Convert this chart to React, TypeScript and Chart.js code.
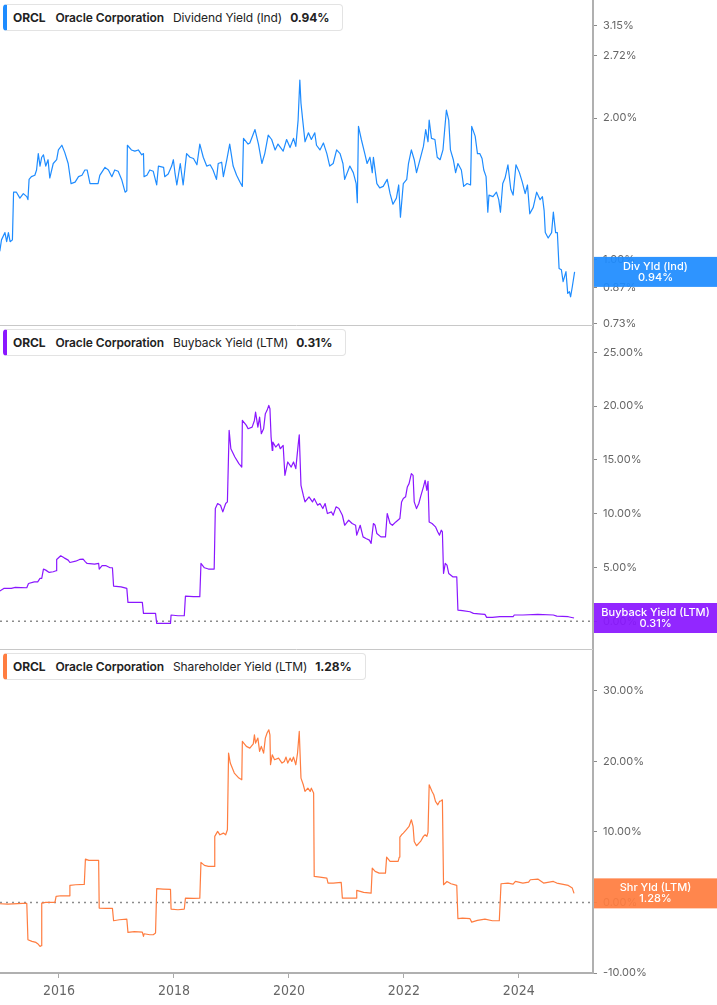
import React, { useEffect, useRef } from 'react';
import { Chart, registerables } from 'chart.js';

Chart.register(...registerables);

// ---------- Data (decimal years, % values) ----------
const divDates = [
  2014.97, 2015.0, 2015.06, 2015.09, 2015.12, 2015.15, 2015.19, 2015.21, 2015.26, 2015.32, 2015.38, 2015.44, 2015.46,
  2015.48, 2015.52, 2015.58, 2015.61, 2015.64, 2015.67, 2015.7, 2015.73, 2015.77, 2015.81, 2015.84, 2015.9, 2015.96,
  2015.99, 2016.05, 2016.1, 2016.16, 2016.21, 2016.28, 2016.34, 2016.4, 2016.45, 2016.49, 2016.54, 2016.63, 2016.68,
  2016.71, 2016.8, 2016.86, 2016.92, 2016.97, 2017.03, 2017.09, 2017.15, 2017.18, 2017.19, 2017.26, 2017.32, 2017.38,
  2017.44, 2017.47, 2017.48, 2017.53, 2017.58, 2017.64, 2017.7, 2017.73, 2017.82, 2017.84, 2017.9, 2017.96, 2017.99,
  2018.02, 2018.05, 2018.11, 2018.16, 2018.22, 2018.28, 2018.34, 2018.4, 2018.45, 2018.51, 2018.57, 2018.63, 2018.68,
  2018.74, 2018.77, 2018.83, 2018.86, 2018.92, 2018.97, 2019.03, 2019.09, 2019.15, 2019.19, 2019.21, 2019.29, 2019.32,
  2019.41, 2019.47, 2019.53, 2019.58, 2019.64, 2019.7, 2019.76, 2019.81, 2019.9, 2019.96, 2020.02, 2020.08, 2020.12,
  2020.16, 2020.19, 2020.21, 2020.24, 2020.28, 2020.34, 2020.39, 2020.45, 2020.48, 2020.54, 2020.6, 2020.66, 2020.71,
  2020.77, 2020.83, 2020.89, 2020.94, 2020.97, 2021.06, 2021.12, 2021.17, 2021.19, 2021.21, 2021.26, 2021.32, 2021.36,
  2021.41, 2021.45, 2021.47, 2021.53, 2021.58, 2021.64, 2021.71, 2021.76, 2021.81, 2021.87, 2021.91, 2021.94, 2021.99,
  2022.05, 2022.08, 2022.13, 2022.18, 2022.22, 2022.28, 2022.34, 2022.38, 2022.42, 2022.44, 2022.48, 2022.54, 2022.58,
  2022.63, 2022.68, 2022.71, 2022.74, 2022.78, 2022.81, 2022.86, 2022.9, 2022.94, 2023.0, 2023.04, 2023.1, 2023.16,
  2023.18, 2023.24, 2023.28, 2023.32, 2023.36, 2023.39, 2023.43, 2023.46, 2023.48, 2023.55, 2023.61, 2023.65, 2023.68,
  2023.72, 2023.76, 2023.81, 2023.86, 2023.9, 2023.95, 2024.01, 2024.06, 2024.11, 2024.15, 2024.19, 2024.25, 2024.31,
  2024.37, 2024.41, 2024.44, 2024.46, 2024.51, 2024.57, 2024.6, 2024.64, 2024.67, 2024.7, 2024.74, 2024.77, 2024.82,
  2024.85, 2024.88, 2024.9, 2024.93, 2024.97,
];
const divValues = [
  1.04, 1.1, 1.14, 1.09, 1.14, 1.09, 1.1, 1.39, 1.39, 1.35, 1.38, 1.36, 1.34,
  1.48, 1.5, 1.51, 1.55, 1.68, 1.58, 1.65, 1.67, 1.58, 1.63, 1.49, 1.6, 1.63,
  1.71, 1.75, 1.69, 1.6, 1.45, 1.46, 1.5, 1.51, 1.55, 1.55, 1.45, 1.45, 1.45,
  1.51, 1.57, 1.55, 1.5, 1.55, 1.54, 1.48, 1.39, 1.4, 1.75, 1.71, 1.7, 1.71,
  1.67, 1.68, 1.5, 1.51, 1.55, 1.54, 1.44, 1.58, 1.57, 1.5, 1.52, 1.58, 1.63,
  1.52, 1.44, 1.6, 1.44, 1.68, 1.65, 1.64, 1.59, 1.76, 1.65, 1.58, 1.59, 1.55,
  1.48, 1.6, 1.61, 1.5, 1.63, 1.76, 1.58, 1.51, 1.46, 1.43, 1.81, 1.76, 1.77,
  1.89, 1.76, 1.6, 1.68, 1.84, 1.8, 1.71, 1.76, 1.7, 1.8, 1.73, 1.81, 1.74,
  1.98, 2.41, 2.15, 1.98, 1.78, 1.86, 1.8, 1.86, 1.75, 1.71, 1.77, 1.68, 1.58,
  1.6, 1.71, 1.68, 1.6, 1.48, 1.58, 1.53, 1.45, 1.32, 1.92, 1.8, 1.68, 1.6,
  1.65, 1.53, 1.65, 1.45, 1.42, 1.43, 1.48, 1.38, 1.31, 1.35, 1.44, 1.23, 1.45,
  1.48, 1.6, 1.71, 1.63, 1.53, 1.63, 1.74, 1.89, 1.78, 1.98, 1.81, 1.8, 1.65,
  1.63, 1.71, 1.89, 2.08, 1.98, 1.71, 1.63, 1.53, 1.6, 1.55, 1.43, 1.45, 1.44,
  1.92, 1.83, 1.68, 1.68, 1.64, 1.55, 1.5, 1.26, 1.37, 1.36, 1.39, 1.34, 1.26,
  1.45, 1.49, 1.59, 1.41, 1.37, 1.59, 1.53, 1.46, 1.38, 1.44, 1.25, 1.29, 1.39,
  1.34, 1.36, 1.27, 1.14, 1.11, 1.14, 1.26, 1.14, 1.14, 0.956, 0.95, 0.896, 0.941,
  0.846, 0.853, 0.832, 0.874, 0.94,
];

const buybackDates = [
  2014.97, 2015.04, 2015.17, 2015.24, 2015.44, 2015.47, 2015.57, 2015.63, 2015.67, 2015.7, 2015.73, 2015.77, 2015.83,
  2015.9, 2015.95, 2015.96, 2016.03, 2016.09, 2016.16, 2016.19, 2016.29, 2016.36, 2016.42, 2016.46, 2016.49, 2016.62,
  2016.69, 2016.7, 2016.75, 2016.82, 2016.89, 2016.93, 2016.95, 2017.08, 2017.18, 2017.2, 2017.35, 2017.45, 2017.47,
  2017.54, 2017.68, 2017.7, 2017.81, 2017.94, 2017.95, 2018.07, 2018.18, 2018.2, 2018.34, 2018.45, 2018.47, 2018.53,
  2018.6, 2018.7, 2018.72, 2018.76, 2018.81, 2018.85, 2018.9, 2018.93, 2018.96, 2018.99, 2019.06, 2019.13, 2019.18,
  2019.19, 2019.26, 2019.29, 2019.36, 2019.4, 2019.42, 2019.46, 2019.49, 2019.52, 2019.56, 2019.59, 2019.62, 2019.65,
  2019.67, 2019.69, 2019.71, 2019.72, 2019.77, 2019.82, 2019.85, 2019.9, 2019.93, 2019.98, 2020.04, 2020.08, 2020.12,
  2020.16, 2020.18, 2020.21, 2020.25, 2020.28, 2020.35, 2020.41, 2020.44, 2020.5, 2020.54, 2020.59, 2020.63, 2020.67,
  2020.74, 2020.77, 2020.82, 2020.87, 2020.93, 2020.97, 2021.04, 2021.1, 2021.16, 2021.18, 2021.24, 2021.29, 2021.34,
  2021.4, 2021.43, 2021.47, 2021.5, 2021.53, 2021.6, 2021.68, 2021.71, 2021.76, 2021.8, 2021.86, 2021.93, 2021.96,
  2021.99, 2022.03, 2022.06, 2022.09, 2022.13, 2022.16, 2022.18, 2022.22, 2022.26, 2022.29, 2022.34, 2022.37, 2022.4,
  2022.42, 2022.44, 2022.49, 2022.55, 2022.59, 2022.62, 2022.65, 2022.67, 2022.69, 2022.72, 2022.75, 2022.78, 2022.85,
  2022.92, 2022.94, 2023.02, 2023.15, 2023.21, 2023.35, 2023.41, 2023.44, 2023.54, 2023.67, 2023.9, 2023.92, 2024.07,
  2024.33, 2024.6, 2024.66, 2024.86, 2024.96,
];
const buybackValues = [
  2.81, 3.06, 3.06, 3.15, 3.12, 3.52, 3.67, 3.67, 3.99, 3.99, 4.86, 4.76, 4.55,
  4.61, 4.7, 5.75, 6.09, 5.9, 5.69, 5.47, 5.59, 5.75, 5.78, 5.53, 5.38, 5.32,
  5.38, 4.86, 5.17, 5.17, 4.98, 4.98, 3.28, 3.21, 3.06, 1.76, 1.76, 1.76, 0.74,
  0.74, 0.74, -0.19, -0.19, -0.19, 0.59, 0.52, 0.52, 2.35, 2.29, 2.29, 5.38, 4.98,
  4.86, 4.86, 10.48, 10.95, 10.79, 10.17, 10.95, 11.1, 17.75, 16.04, 15.27, 14.66, 14.34,
  18.67, 18.21, 17.9, 18.05, 18.67, 19.45, 18.05, 18.98, 17.44, 17.9, 19.3, 19.61, 20.07,
  19.76, 17.13, 15.89, 16.66, 16.2, 16.5, 16.04, 16.35, 13.57, 14.81, 14.34, 14.81, 14.19,
  16.35, 17.34, 12.64, 11.72, 11.1, 11.57, 11.1, 11.41, 10.79, 10.95, 10.48, 10.95, 10.02,
  10.17, 9.86, 10.64, 10.48, 9.86, 8.93, 9.4, 9.09, 8.93, 8.01, 8.93, 7.85, 7.7,
  7.55, 7.24, 9.09, 8.93, 8.16, 7.85, 7.85, 10.02, 9.09, 8.93, 9.24, 9.55, 11.1,
  11.41, 11.57, 12.49, 12.8, 13.73, 13.57, 11.1, 10.48, 10.95, 11.57, 12.49, 13.11, 12.18,
  13.01, 9.24, 9.09, 8.78, 8.31, 8.01, 8.47, 8.31, 4.45, 5.38, 5.22, 4.45, 4.14,
  4.14, 1.05, 0.99, 0.89, 0.74, 0.68, 0.65, 0.37, 0.37, 0.43, 0.43, 0.59, 0.59,
  0.65, 0.59, 0.49, 0.43, 0.31,
];

const shrDates = [
  2014.97, 2015.11, 2015.37, 2015.44, 2015.46, 2015.53, 2015.6, 2015.63, 2015.67, 2015.69, 2015.7, 2015.77, 2015.93,
  2015.95, 2016.03, 2016.18, 2016.19, 2016.29, 2016.44, 2016.46, 2016.52, 2016.69, 2016.7, 2016.82, 2016.93, 2016.95,
  2017.05, 2017.18, 2017.2, 2017.31, 2017.45, 2017.47, 2017.48, 2017.58, 2017.64, 2017.68, 2017.7, 2017.81, 2017.94,
  2017.95, 2018.07, 2018.18, 2018.2, 2018.34, 2018.45, 2018.47, 2018.53, 2018.6, 2018.7, 2018.71, 2018.76, 2018.8,
  2018.86, 2018.9, 2018.93, 2018.95, 2018.98, 2019.05, 2019.13, 2019.18, 2019.19, 2019.26, 2019.32, 2019.38, 2019.4,
  2019.42, 2019.46, 2019.49, 2019.52, 2019.56, 2019.59, 2019.62, 2019.65, 2019.67, 2019.68, 2019.71, 2019.75, 2019.82,
  2019.88, 2019.92, 2019.95, 2019.98, 2020.02, 2020.05, 2020.08, 2020.12, 2020.15, 2020.18, 2020.21, 2020.25, 2020.28,
  2020.33, 2020.37, 2020.39, 2020.43, 2020.44, 2020.54, 2020.66, 2020.68, 2020.77, 2020.91, 2020.93, 2021.04, 2021.17,
  2021.18, 2021.3, 2021.43, 2021.45, 2021.5, 2021.57, 2021.68, 2021.7, 2021.76, 2021.9, 2021.92, 2021.93, 2021.96,
  2021.99, 2022.04, 2022.09, 2022.13, 2022.16, 2022.18, 2022.22, 2022.29, 2022.34, 2022.37, 2022.4, 2022.42, 2022.44,
  2022.49, 2022.52, 2022.55, 2022.59, 2022.62, 2022.65, 2022.67, 2022.69, 2022.75, 2022.82, 2022.92, 2022.94, 2023.02,
  2023.15, 2023.18, 2023.28, 2023.41, 2023.54, 2023.66, 2023.69, 2023.81, 2023.9, 2023.94, 2024.07, 2024.17, 2024.2,
  2024.33, 2024.43, 2024.6, 2024.66, 2024.86, 2024.93, 2024.96,
];
const shrValues = [
  -0.19, -0.24, -0.14, -0.14, -5.29, -5.52, -5.67, -5.85, -6.23, -6.14, -0.09, 0.0, 0.0,
  0.85, 0.94, 0.94, 2.41, 2.5, 2.55, 6.14, 5.95, 5.95, -0.8, -0.85, -0.85, -2.6,
  -2.46, -2.36, -4.25, -4.15, -4.2, -4.82, -4.44, -4.58, -4.58, -4.34, 1.94, 1.89, 1.84,
  -0.94, -1.04, -0.94, 0.61, 0.57, 0.61, 5.67, 5.24, 5.1, 5.1, 9.35, 10.06, 9.58,
  9.82, 9.58, 10.29, 21.15, 19.74, 18.32, 17.61, 17.37, 22.8, 22.1, 21.86, 22.47, 23.75,
  22.57, 23.28, 21.39, 22.1, 21.15, 23.28, 24.0, 24.46, 23.75, 19.5, 20.92, 20.21, 20.44,
  19.74, 19.97, 20.59, 19.74, 20.44, 19.97, 20.59, 19.5, 21.15, 24.22, 17.61, 16.67, 15.72,
  16.19, 15.72, 16.19, 15.49, 3.68, 3.59, 3.45, 2.74, 2.74, 2.83, 0.61, 0.61, 0.61,
  1.7, 1.42, 1.32, 4.86, 4.39, 4.15, 4.15, 6.42, 5.81, 5.81, 6.42, 9.25, 9.58,
  9.82, 10.29, 10.76, 11.71, 10.76, 8.64, 8.03, 8.64, 9.35, 9.58, 9.35, 9.96, 16.67,
  15.72, 15.25, 14.31, 13.83, 14.31, 14.4, 14.54, 2.5, 2.97, 2.64, 2.41, -2.31, -2.22,
  -2.31, -2.79, -2.55, -2.36, -2.6, -2.6, 2.64, 2.74, 2.6, 2.97, 2.74, 2.88, 3.21,
  3.31, 2.74, 2.97, 2.74, 2.41, 2.03, 1.28,
];

const xTickYears = [2016, 2018, 2020, 2022, 2024];
const divTicks = [0.73, 0.87, 1.0, 2.0, 2.72, 3.15];
const buybackTicks = [0, 5, 10, 15, 20, 25];
const shrTicks = [-10, 0, 10, 20, 30];

const headerParts = [
  ['ORCL', 'Oracle Corporation', 'Dividend Yield (Ind)', '0.94%'],
  ['ORCL', 'Oracle Corporation', 'Buyback Yield (LTM)', '0.31%'],
  ['ORCL', 'Oracle Corporation', 'Shareholder Yield (LTM)', '1.28%'],
];
const badgeLabels = ['Div Yld (Ind)', 'Buyback Yield (LTM)', 'Shr Yld (LTM)'];
const badgeValues = ['0.94%', '0.31%', '1.28%'];

// ---------- Layout / styles ----------
const W = 717;
const H = 1005;
const COLORS = ['#1e8cff', '#8a17ff', '#ff7d40'];
const PANEL_TOPS = [0, 325, 649];
const PANEL_BOTTOMS = [325, 649, 973];
const HEADER_TOPS = [4, 329, 653];
const TICK_FONT = { family: 'Inter, "Liberation Sans", sans-serif', size: 11 };
const X_MIN = 2014.974;
const X_MAX = 2025.29;

const pts = (xs: number[], ys: number[]) => xs.map((x, i) => ({ x, y: ys[i] }));

// fix tick list and pin the scale range exactly (log scale otherwise rounds its bounds)
const fixedTicks = (vals: number[], min: number, max: number) => (scale: any) => {
  scale.ticks = vals.map((v) => ({ value: v }));
  scale.min = min;
  scale.max = max;
  scale.start = min;
  scale.end = max;
};

function yAxis(type: string, min: number, max: number, ticks: number[]) {
  return {
    type,
    position: 'right',
    min,
    max,
    bounds: 'data',
    afterBuildTicks: fixedTicks(ticks, min, max),
    afterFit: (s: any) => {
      s.width = 124;
      s.paddingTop = 0;
      s.paddingBottom = 0;
    },
    grid: { drawOnChartArea: false, drawTicks: true, tickLength: 4, tickColor: '#8a8a8a', tickWidth: 1 },
    border: { display: true, color: '#b0b0b0', width: 2 },
    ticks: {
      autoSkip: false,
      padding: 6,
      color: '#666',
      font: TICK_FONT,
      callback: (v: any) => Number(v).toFixed(2) + '%',
    },
  };
}

function xAxis(show: boolean) {
  return {
    type: 'linear',
    position: 'bottom',
    display: show,
    min: X_MIN,
    max: X_MAX,
    afterBuildTicks: fixedTicks(xTickYears, X_MIN, X_MAX),
    afterFit: (s: any) => {
      s.height = show ? 32 : 0;
      s.paddingLeft = 0;
      s.paddingRight = 0;
    },
    grid: { drawOnChartArea: false, drawTicks: true, tickLength: 5, tickColor: '#aaa' },
    border: { display: true, color: '#b0b0b0', width: 2 },
    ticks: {
      autoSkip: false,
      maxRotation: 0,
      padding: 5,
      color: '#666',
      font: { family: '"Liberation Sans Narrow", "DejaVu Sans Condensed", "Liberation Sans", sans-serif', size: 14 },
      callback: (v: any) => String(v),
    },
  };
}

function panelPlugin(idx: number, lastValue: number, separator: boolean, zeroLine: boolean) {
  return {
    id: 'panelOverlay' + idx,
    beforeDatasetsDraw(chart: any) {
      const { ctx, chartArea } = chart;
      ctx.save();
      if (separator) {
        ctx.strokeStyle = '#c8c8c8';
        ctx.lineWidth = 1;
        const y = Math.round(chartArea.top) + 0.5;
        ctx.beginPath();
        ctx.moveTo(chartArea.left, y);
        ctx.lineTo(chartArea.right, y);
        ctx.stroke();
      }
      if (zeroLine) {
        ctx.setLineDash([2, 4]);
        ctx.strokeStyle = '#8c8c8c';
        ctx.lineWidth = 1.5;
        const y = chart.scales.y.getPixelForValue(0);
        ctx.beginPath();
        ctx.moveTo(chartArea.left, y);
        ctx.lineTo(chartArea.right, y);
        ctx.stroke();
      }
      ctx.restore();
    },
    afterDraw(chart: any) {
      const { ctx, chartArea } = chart;
      const cy = chart.scales.y.getPixelForValue(lastValue);
      const x0 = chartArea.right + 1;
      const w = chart.width - x0;
      ctx.save();
      ctx.globalAlpha = 0.93;
      ctx.fillStyle = COLORS[idx];
      ctx.fillRect(x0, cy - 15, w, 30);
      ctx.globalAlpha = 1;
      ctx.fillStyle = '#fff';
      ctx.font = '500 11px Inter, "Liberation Sans", sans-serif';
      ctx.textAlign = 'center';
      ctx.textBaseline = 'middle';
      ctx.fillText(badgeLabels[idx], x0 + w / 2, cy - 5.5);
      ctx.fillText(badgeValues[idx], x0 + w / 2, cy + 5.5);
      ctx.restore();
    },
  };
}

function buildChart(canvas: HTMLCanvasElement, idx: number) {
  const dates = [divDates, buybackDates, shrDates][idx];
  const values = [divValues, buybackValues, shrValues][idx];
  const yScales = [
    yAxis('logarithmic', 0.7244, 3.569, divTicks),
    yAxis('linear', -2.57, 27.54, buybackTicks),
    yAxis('linear', -10, 35.9, shrTicks),
  ];
  const isLast = idx === 2;
  return new Chart(canvas, {
    type: 'line',
    data: {
      datasets: [{ data: pts(dates, values), borderColor: COLORS[idx] }] as any,
    },
    options: {
      animation: false,
      responsive: false,
      devicePixelRatio: 1,
      layout: {
        padding: { top: PANEL_TOPS[idx], bottom: isLast ? 0 : H - PANEL_BOTTOMS[idx], left: 0, right: 0 },
        autoPadding: false,
      } as any,
      elements: {
        line: { borderWidth: 1.2, tension: 0, borderJoinStyle: 'round' },
        point: { radius: 0, hoverRadius: 0 },
      },
      plugins: { legend: { display: false }, tooltip: { enabled: false } },
      scales: { x: xAxis(isLast), y: yScales[idx] } as any,
    },
    plugins: [panelPlugin(idx, values[values.length - 1], idx > 0, idx > 0)],
  });
}

function Header({ parts, color, top }: { parts: string[]; color: string; top: number }) {
  return (
    <div
      style={{
        position: 'absolute',
        left: 3,
        top,
        height: 27,
        boxSizing: 'border-box',
        display: 'flex',
        alignItems: 'center',
        background: '#fff',
        border: '1px solid #e3e3e3',
        borderLeft: `4px solid ${color}`,
        borderRadius: 4,
        padding: '0 13px 0 6px',
        fontFamily: 'Inter, "Liberation Sans", sans-serif',
        fontSize: 12,
        letterSpacing: '-0.1px',
        color: '#222',
        whiteSpace: 'nowrap',
        zIndex: 5,
      }}
    >
      <span style={{ fontWeight: 700, marginRight: 10 }}>{parts[0]}</span>
      <span style={{ fontWeight: 600, marginRight: 9 }}>{parts[1]}</span>
      <span style={{ fontWeight: 400, marginRight: 8 }}>{parts[2]}</span>
      <span style={{ fontWeight: 700 }}>{parts[3]}</span>
    </div>
  );
}

export default function App() {
  const r0 = useRef<HTMLCanvasElement | null>(null);
  const r1 = useRef<HTMLCanvasElement | null>(null);
  const r2 = useRef<HTMLCanvasElement | null>(null);
  useEffect(() => {
    const refs = [r0, r1, r2];
    const charts = refs.map((r, i) => (r.current ? buildChart(r.current, i) : null));
    return () => charts.forEach((c) => c && c.destroy());
  }, []);
  const canvasStyle: React.CSSProperties = { position: 'absolute', left: 0, top: 0, width: W, height: H, display: 'block' };
  return (
    <div style={{ position: 'absolute', left: 0, top: 0, width: W, height: H, background: '#fff', overflow: 'hidden' }}>
      <canvas ref={r0} width={W} height={H} style={canvasStyle} />
      <canvas ref={r1} width={W} height={H} style={canvasStyle} />
      <canvas ref={r2} width={W} height={H} style={canvasStyle} />
      {headerParts.map((p, i) => (
        <Header key={i} parts={p} color={COLORS[i]} top={HEADER_TOPS[i]} />
      ))}
    </div>
  );
}
